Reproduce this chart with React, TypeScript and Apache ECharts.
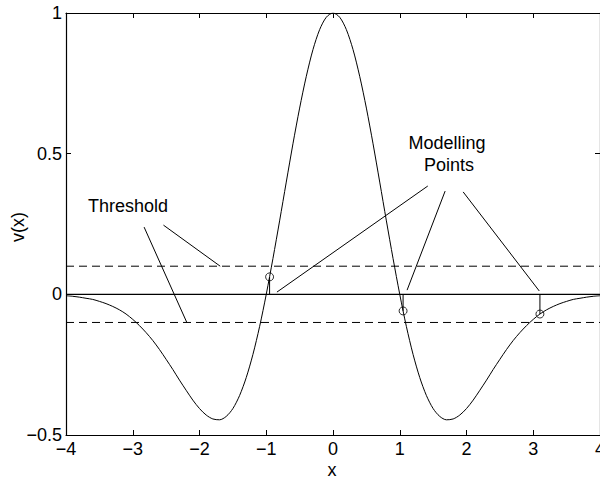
import React, { useEffect, useRef } from "react";
import * as echarts from "echarts";

// Sample positions along x and the curve values v(x)
const xValues: number[] = [
  -4.0, -3.9, -3.8, -3.7, -3.6, -3.5, -3.4, -3.3, -3.2, -3.1,
  -3.0, -2.9, -2.8, -2.7, -2.6, -2.5, -2.4, -2.3, -2.2, -2.1,
  -2.0, -1.9, -1.8, -1.7, -1.6, -1.5, -1.4, -1.3, -1.2, -1.1,
  -1.0, -0.9, -0.8, -0.7, -0.6, -0.5, -0.4, -0.3, -0.2, -0.1,
  0.0, 0.1, 0.2, 0.3, 0.4, 0.5, 0.6, 0.7, 0.8, 0.9,
  1.0, 1.1, 1.2, 1.3, 1.4, 1.5, 1.6, 1.7, 1.8, 1.9,
  2.0, 2.1, 2.2, 2.3, 2.4, 2.5, 2.6, 2.7, 2.8, 2.9,
  3.0, 3.1, 3.2, 3.3, 3.4, 3.5, 3.6, 3.7, 3.8, 3.9,
  4.0,
];

const vValues: number[] = [
  -0.005, -0.007, -0.010, -0.014, -0.018, -0.025, -0.033, -0.043, -0.055, -0.070,
  -0.089, -0.111, -0.136, -0.164, -0.196, -0.231, -0.267, -0.305, -0.341, -0.376,
  -0.406, -0.429, -0.443, -0.446, -0.434, -0.406, -0.360, -0.296, -0.214, -0.115,
  0.0, 0.127, 0.261, 0.399, 0.535, 0.662, 0.775, 0.870, 0.941, 0.985,
  1.0, 0.985, 0.941, 0.870, 0.775, 0.662, 0.535, 0.399, 0.261, 0.127,
  0.0, -0.115, -0.214, -0.296, -0.360, -0.406, -0.434, -0.446, -0.443, -0.429,
  -0.406, -0.376, -0.341, -0.305, -0.267, -0.231, -0.196, -0.164, -0.136, -0.111,
  -0.089, -0.070, -0.055, -0.043, -0.033, -0.025, -0.018, -0.014, -0.010, -0.007,
  -0.005,
];

// Modelling points on the curve
const pointX: number[] = [-0.95, 1.05, 3.1];
const pointV: number[] = [0.062, -0.059, -0.07];

// Threshold levels
const thresholds: number[] = [0.1, -0.1];

// Axis ticks
const xTicks: number[] = [-4, -3, -2, -1, 0, 1, 2, 3, 4];
const yTicks: number[] = [-0.5, 0, 0.5, 1];

// Leader lines (data coordinates): [x1, y1, x2, y2]
const thresholdLeaders: number[][] = [
  [-2.54, 0.246, -1.69, 0.1],
  [-2.83, 0.239, -2.19, -0.1],
];
const pointLeaders: number[][] = [
  [1.42, 0.385, -0.84, 0.008],
  [1.68, 0.367, 1.11, 0.015],
  [1.95, 0.364, 3.09, 0.012],
];

const FONT = "'Liberation Sans', Arial, Helvetica, sans-serif";
const fmt = (v: number) => String(v).replace("-", "\u2212");

export default function App() {
  const ref = useRef<HTMLDivElement>(null);

  useEffect(() => {
    if (!ref.current) return;
    const chart = echarts.init(ref.current, undefined, { renderer: "svg" });

    const thin = { color: "#000", width: 1 };
    const plain = { show: false };

    const leaderSeries = [...thresholdLeaders, ...pointLeaders].map((s) => ({
      type: "line",
      data: [
        [s[0], s[1]],
        [s[2], s[3]],
      ],
      symbol: "none",
      lineStyle: { color: "#000", width: 1 },
      silent: true,
      z: 3,
    }));

    const stemSeries = pointX.map((x, i) => ({
      type: "line",
      data: [
        [x, 0],
        [x, pointV[i]],
      ],
      symbol: "none",
      lineStyle: { color: "#000", width: 1 },
      silent: true,
      z: 3,
    }));

    const thresholdSeries = thresholds.map((t) => ({
      type: "line",
      data: [
        [xTicks[0], t],
        [xTicks[xTicks.length - 1], t],
      ],
      symbol: "none",
      lineStyle: { color: "#000", width: 1, type: [8, 5] },
      silent: true,
      z: 2,
    }));

    const option: any = {
      animation: false,
      backgroundColor: "#fff",
      grid: {
        left: 66,
        right: 0,
        top: 13,
        bottom: 48,
        containLabel: false,
        outerBoundsMode: "none",
      },
      xAxis: [
        {
          type: "value",
          min: xTicks[0],
          max: xTicks[xTicks.length - 1],
          interval: 1,
          axisLine: { onZero: false, lineStyle: { color: "#000", width: 1.2 } },
          axisTick: { inside: true, length: 5, lineStyle: { color: "#000" } },
          axisLabel: {
            color: "#000",
            fontSize: 18,
            fontFamily: FONT,
            margin: 5,
            formatter: fmt,
          },
          splitLine: plain,
        },
        {
          type: "value",
          position: "top",
          min: xTicks[0],
          max: xTicks[xTicks.length - 1],
          interval: 1,
          axisLine: { onZero: false, lineStyle: { color: "#000", width: 1.2 } },
          axisTick: { inside: true, length: 5, lineStyle: { color: "#000" } },
          axisLabel: plain,
          splitLine: plain,
        },
      ],
      yAxis: [
        {
          type: "value",
          min: yTicks[0],
          max: yTicks[yTicks.length - 1],
          interval: 0.5,
          axisLine: { show: true, onZero: false, lineStyle: { color: "#000", width: 1.2 } },
          axisTick: { show: true, inside: true, length: 5, lineStyle: { color: "#000" } },
          axisLabel: {
            color: "#000",
            fontSize: 18,
            fontFamily: FONT,
            margin: 4,
            formatter: fmt,
          },
          splitLine: plain,
        },
        {
          type: "value",
          position: "right",
          min: yTicks[0],
          max: yTicks[yTicks.length - 1],
          interval: 0.5,
          axisLine: { show: true, onZero: false, lineStyle: { color: "#000", width: 1.2 } },
          axisTick: { show: true, inside: true, length: 5, lineStyle: { color: "#000" } },
          axisLabel: plain,
          splitLine: plain,
        },
      ],
      series: [
        {
          type: "line",
          data: [
            [xTicks[0], 0],
            [xTicks[xTicks.length - 1], 0],
          ],
          symbol: "none",
          lineStyle: { color: "#000", width: 1.2 },
          silent: true,
          z: 2,
        },
        ...thresholdSeries,
        {
          type: "line",
          data: xValues.map((x, i) => [x, vValues[i]]),
          symbol: "none",
          smooth: 0.3,
          lineStyle: thin,
          silent: true,
          z: 4,
        },
        ...stemSeries,
        ...leaderSeries,
        {
          type: "scatter",
          data: pointX.map((x, i) => [x, pointV[i]]),
          symbol: "circle",
          symbolSize: 8,
          itemStyle: { color: "rgba(255,255,255,0)", borderColor: "#000", borderWidth: 1 },
          silent: true,
          z: 5,
        },
      ],
      graphic: [
        {
          type: "text",
          x: 128,
          y: 206,
          style: {
            text: "Threshold",
            font: `18px ${FONT}`,
            fill: "#000",
            textAlign: "center",
            textVerticalAlign: "middle",
          },
        },
        {
          type: "text",
          x: 447,
          y: 143,
          style: {
            text: "Modelling",
            font: `18px ${FONT}`,
            fill: "#000",
            textAlign: "center",
            textVerticalAlign: "middle",
          },
        },
        {
          type: "text",
          x: 449,
          y: 165,
          style: {
            text: "Points",
            font: `18px ${FONT}`,
            fill: "#000",
            textAlign: "center",
            textVerticalAlign: "middle",
          },
        },
        {
          type: "text",
          x: 332,
          y: 470,
          style: {
            text: "x",
            font: `18px ${FONT}`,
            fill: "#000",
            textAlign: "center",
            textVerticalAlign: "middle",
          },
        },
        {
          type: "text",
          x: 18,
          y: 227,
          rotation: Math.PI / 2,
          style: {
            text: "v(x)",
            font: `18px ${FONT}`,
            fill: "#000",
            textAlign: "center",
            textVerticalAlign: "middle",
          },
        },
      ],
    };

    chart.setOption(option);
    return () => chart.dispose();
  }, []);

  return (
    <div
      ref={ref}
      style={{ position: "fixed", left: 0, top: 0, width: 600, height: 483 }}
    />
  );
}
